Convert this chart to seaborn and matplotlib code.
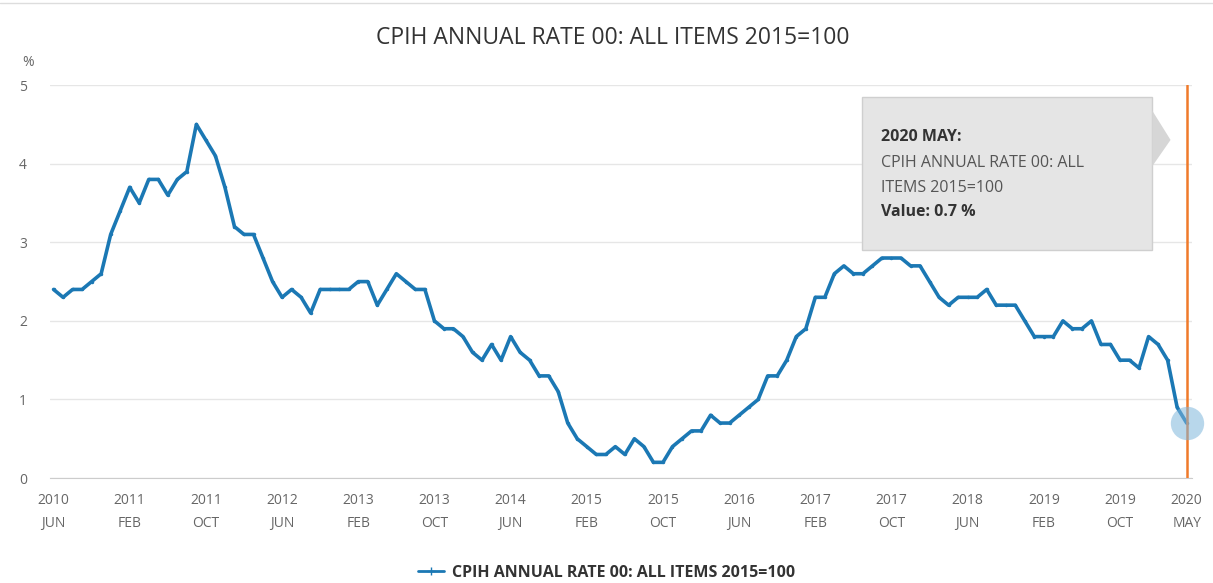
import pandas as pd
import matplotlib.pyplot as plt
import seaborn as sns
from matplotlib.patches import Rectangle, Polygon
from matplotlib.lines import Line2D

# monthly CPIH annual rate, 2010 JUN .. 2020 MAY
cpih_rate = [
    2.4, 2.3, 2.4, 2.4, 2.5, 2.6, 3.1,
    3.4, 3.7, 3.5, 3.8, 3.8, 3.6, 3.8, 3.9, 4.5, 4.3, 4.1, 3.7,
    3.2, 3.1, 3.1, 2.8, 2.5, 2.3, 2.4, 2.3, 2.1, 2.4, 2.4, 2.4,
    2.4, 2.5, 2.5, 2.2, 2.4, 2.6, 2.5, 2.4, 2.4, 2.0, 1.9, 1.9,
    1.8, 1.6, 1.5, 1.7, 1.5, 1.8, 1.6, 1.5, 1.3, 1.3, 1.1, 0.7,
    0.5, 0.4, 0.3, 0.3, 0.4, 0.3, 0.5, 0.4, 0.2, 0.2, 0.4, 0.5,
    0.6, 0.6, 0.8, 0.7, 0.7, 0.8, 0.9, 1.0, 1.3, 1.3, 1.5, 1.8,
    1.9, 2.3, 2.3, 2.6, 2.7, 2.6, 2.6, 2.7, 2.8, 2.8, 2.8, 2.7,
    2.7, 2.5, 2.3, 2.2, 2.3, 2.3, 2.3, 2.4, 2.2, 2.2, 2.2, 2.0,
    1.8, 1.8, 1.8, 2.0, 1.9, 1.9, 2.0, 1.7, 1.7, 1.5, 1.5, 1.4,
    1.8, 1.7, 1.5, 0.9, 0.7,
]
month_index = list(range(len(cpih_rate)))

tick_positions = [0, 8, 16, 24, 32, 40, 48, 56, 64, 72, 80, 88, 96, 104, 112, 119]
tick_labels = [
    "2010\nJUN", "2011\nFEB", "2011\nOCT", "2012\nJUN", "2013\nFEB", "2013\nOCT",
    "2014\nJUN", "2015\nFEB", "2015\nOCT", "2016\nJUN", "2017\nFEB", "2017\nOCT",
    "2018\nJUN", "2019\nFEB", "2019\nOCT", "2020\nMAY",
]
series_name = "CPIH ANNUAL RATE 00: ALL ITEMS 2015=100"

df = pd.DataFrame({"month": month_index, "rate": cpih_rate})

sns.set_style("white")
plt.rcParams["font.family"] = ["Open Sans", "DejaVu Sans"]

line_color = "#1b78b4"
fig = plt.figure(figsize=(12.13, 5.83), dpi=100)
ax = fig.add_axes([0.041, 0.180, 0.942, 0.674])

sns.lineplot(data=df, x="month", y="rate", ax=ax, color=line_color,
             linewidth=2.6, marker="o", markersize=2.5, markeredgewidth=0)

ax.set_xlim(-0.4, 119.6)
ax.set_ylim(0, 5)
ax.set_yticks(range(0, 6))
ax.set_yticklabels([str(v) for v in range(0, 6)], color="#666666", fontsize=10)
ax.set_xticks(tick_positions)
ax.set_xticklabels(tick_labels, color="#666666", fontsize=10, linespacing=1.7)
ax.tick_params(axis="x", length=8, color="#cccccc", pad=3)
ax.tick_params(axis="y", length=0)
for lbl in ax.get_yticklabels():
    lbl.set_horizontalalignment("left")
ax.yaxis.set_tick_params(pad=22)
ax.grid(axis="y", color="#e6e6e6", linewidth=1)
for side in ["left", "right", "top"]:
    ax.spines[side].set_visible(False)
ax.spines["bottom"].set_color("#cccccc")
ax.set_xlabel("")
ax.set_ylabel("")

fig.text(0.018, 0.893, "%", color="#666666", fontsize=10, ha="left", va="center")
fig.text(0.505, 0.935, series_name, color="#333333", fontsize=16.5, ha="center", va="center")

# highlighted last point
last = month_index[-1]
ax.axvline(last, color="#f07a2a", linewidth=1.8, zorder=4)
ax.plot(last, cpih_rate[-1], "o", markersize=24, color="#7fb6dc", alpha=0.55,
        markeredgewidth=0, zorder=5, clip_on=False)

# tooltip
fig.patches.append(Rectangle((0.711, 0.572), 0.239, 0.261, transform=fig.transFigure,
                             facecolor="#e5e5e5", edgecolor="#cfcfcf", linewidth=1))
fig.patches.append(Polygon([[0.950, 0.810], [0.965, 0.760], [0.950, 0.715]],
                           closed=True, transform=fig.transFigure,
                           facecolor="#d6d6d6", edgecolor="none"))
fig.text(0.726, 0.765, "2020 MAY:", fontsize=11.5, fontweight="bold", color="#333333", va="center")
fig.text(0.726, 0.720, "CPIH ANNUAL RATE 00: ALL", fontsize=11.5, color="#555555", va="center")
fig.text(0.726, 0.678, "ITEMS 2015=100", fontsize=11.5, color="#555555", va="center")
fig.text(0.726, 0.636, "Value: 0.7 %", fontsize=11.5, fontweight="bold", color="#333333", va="center")

# legend
handle = Line2D([], [], color=line_color, linewidth=2, marker="+", markersize=6)
fig.legend([handle], [series_name], loc="center", bbox_to_anchor=(0.5, 0.017),
           frameon=False, handlelength=1.6, handletextpad=0.5,
           prop={"weight": "bold", "size": 11.5})
for txt in fig.legends[0].get_texts():
    txt.set_color("#333333")

# thin frame line across the top
fig.add_artist(Line2D([0, 1], [0.994, 0.994], color="#dddddd", linewidth=1,
                      transform=fig.transFigure))

plt.savefig("out.png", dpi=100)
plt.close()
